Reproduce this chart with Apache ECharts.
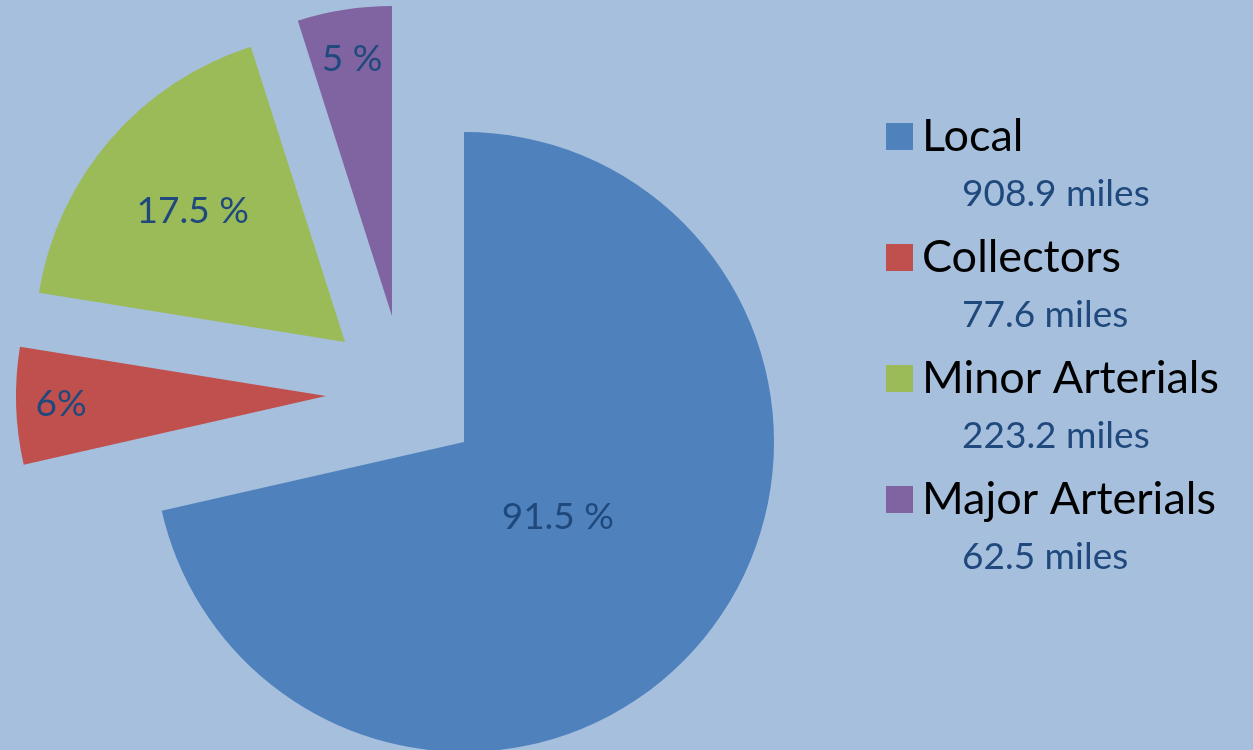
<!DOCTYPE html>
<html>
<head>
<meta charset="utf-8">
<script src="https://cdn.jsdelivr.net/npm/echarts@6/dist/echarts.min.js"></script>
<style>
  html, body { margin: 0; padding: 0; background: #a6bfdd; }
  #main { width: 1253px; height: 750px; }
</style>
</head>
<body>
<div id="main"></div>
<script>
// road classes and their lengths (pie sizes come from miles)
const names = ['Local', 'Collectors', 'Minor Arterials', 'Major Arterials'];
const miles = [908.9, 77.6, 223.2, 62.5];
// text printed on each slice, as in the original
const sliceLabels = ['91.5 %', '6%', '17.5 %', '5 %'];

const colors = ['#4f81bd', '#c0504d', '#9bbb59', '#8064a2'];
const font = 'Lato';

// layout: pie centre / radius, how far each slice is pulled out, label distance
const cx = 464, cy = 442, R = 310;
const pullOut = [[0, 0], [-138, -46], [-119, -100], [-72, -126]];
const labelDist = [117, 262, 198, 257];

const series = [];
names.forEach((name, i) => {
    const center = [cx + pullOut[i][0], cy + pullOut[i][1]];
    // slice itself, other slices of this copy are transparent
    series.push({
        type: 'pie',
        center: center,
        radius: [0, R],
        startAngle: 90,
        clockwise: true,
        silent: true,
        animation: false,
        label: { show: false },
        labelLine: { show: false },
        data: miles.map((v, j) => ({
            value: v,
            name: j === i ? name : '',
            itemStyle: { color: j === i ? colors[i] : 'rgba(0,0,0,0)', borderWidth: 0 }
        }))
    });
    // invisible copy that only carries the label
    series.push({
        type: 'pie',
        center: center,
        radius: [0, labelDist[i] * 2],
        startAngle: 90,
        clockwise: true,
        silent: true,
        animation: false,
        itemStyle: { color: 'rgba(0,0,0,0)', borderWidth: 0 },
        label: {
            show: true,
            position: 'inside',
            formatter: p => p.dataIndex === i ? sliceLabels[i] : '',
            color: '#1f497d',
            fontSize: 37,
            fontFamily: font
        },
        labelLine: { show: false },
        data: miles.map(v => ({ value: v }))
    });
});

const chart = echarts.init(document.getElementById('main'));
chart.setOption({
    backgroundColor: '#a6bfdd',
    animation: false,
    legend: {
        orient: 'vertical',
        left: 886,
        top: 60,
        padding: 0,
        itemWidth: 27,
        itemHeight: 27,
        itemGap: -32,
        icon: 'rect',
        selectedMode: false,
        data: names.map((n, i) => ({ name: n, itemStyle: { color: colors[i] } })),
        formatter: n => {
            const i = names.indexOf(n);
            return '{s| }\n{n|' + n + '}\n{m|' + miles[i] + ' miles}';
        },
        textStyle: {
            fontFamily: font,
            rich: {
                s: { fontSize: 37, lineHeight: 60 },
                n: { fontSize: 45, lineHeight: 56, color: '#000', fontFamily: font, padding: [0, 0, 0, 4] },
                m: { fontSize: 37, lineHeight: 60, color: '#1f497d', fontFamily: font, padding: [0, 0, 0, 44] }
            }
        }
    },
    series: series
});
</script>
</body>
</html>
